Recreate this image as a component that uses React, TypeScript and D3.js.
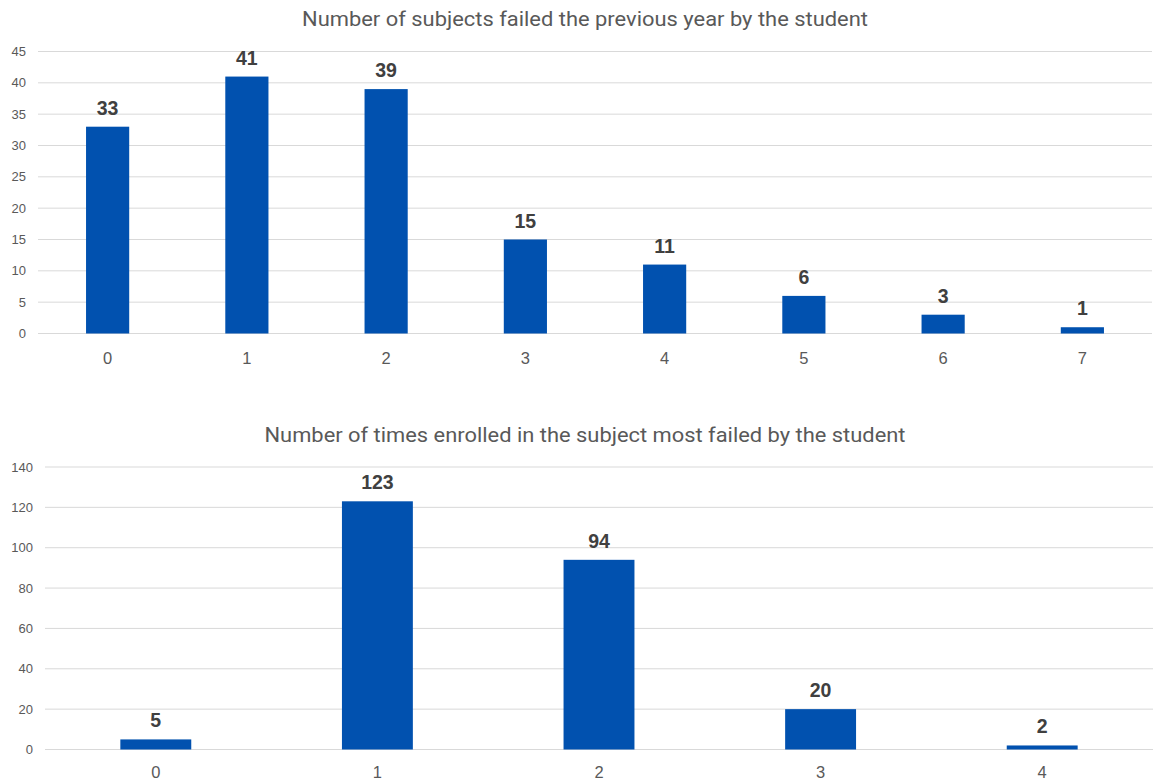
import React from "react";
import * as d3 from "d3";

const W = 1153;
const H = 781;

const failedCats = ["0", "1", "2", "3", "4", "5", "6", "7"];
const failedCounts = [33, 41, 39, 15, 11, 6, 3, 1];
const failedTicks = [0, 5, 10, 15, 20, 25, 30, 35, 40, 45];
const failedTitle = "Number of subjects failed the previous year by the student";

const enrolledCats = ["0", "1", "2", "3", "4"];
const enrolledCounts = [5, 123, 94, 20, 2];
const enrolledTicks = [0, 20, 40, 60, 80, 100, 120, 140];
const enrolledTitle = "Number of times enrolled in the subject most failed by the student";

const BAR = "#0151AF";
const GRID = "#D9D9D9";
const AXIS_TEXT = "#595959";
const LABEL_TEXT = "#404040";

type PanelProps = {
  cats: string[];
  values: number[];
  ticks: number[];
  title: string;
  titleY: number;
  titleWidth: number;
  x0: number;
  x1: number;
  yTop: number;
  yBottom: number;
  yLabelX: number;
  xLabelY: number;
  padding: number;
};

function Panel(p: PanelProps) {
  const maxTick = p.ticks[p.ticks.length - 1];
  const x = d3.scaleBand<string>().domain(p.cats).range([p.x0, p.x1]).paddingInner(p.padding).paddingOuter(p.padding / 2);
  const y = d3.scaleLinear().domain([0, maxTick]).range([p.yBottom, p.yTop]);
  return (
    <g>
      <text x={585} y={p.titleY} textAnchor="middle" fontSize={21} fill={AXIS_TEXT}
        textLength={p.titleWidth} lengthAdjust="spacingAndGlyphs"
        fontFamily="Roboto, sans-serif">{p.title}</text>
      {p.ticks.map((t) => (
        <g key={t}>
          <line x1={p.x0} x2={p.x1} y1={y(t)} y2={y(t)} stroke={GRID} strokeWidth={1} />
          <text x={p.yLabelX} y={y(t)} dy="0.35em" textAnchor="end" fontSize={13} fill={AXIS_TEXT}
            fontFamily="'Liberation Sans', Arial, sans-serif">{t}</text>
        </g>
      ))}
      {p.cats.map((c, i) => (
        <g key={c}>
          <rect x={x(c)} y={y(p.values[i])} width={x.bandwidth()} height={y(0) - y(p.values[i])} fill={BAR} />
          <text x={(x(c) as number) + x.bandwidth() / 2} y={y(p.values[i]) - 12} textAnchor="middle"
            fontSize={19.5} fontWeight="bold" fill={LABEL_TEXT}
            fontFamily="'Liberation Sans', Arial, sans-serif">{p.values[i]}</text>
          <text x={(x(c) as number) + x.bandwidth() / 2} y={p.xLabelY} dy="0.35em" textAnchor="middle"
            fontSize={16.5} fill={AXIS_TEXT}
            fontFamily="'Liberation Sans', Arial, sans-serif">{c}</text>
        </g>
      ))}
    </g>
  );
}

export default function App() {
  return (
    <svg width={W} height={H} style={{ position: "absolute", left: 0, top: 0, background: "#fff" }}>
      <rect width={W} height={H} fill="#fff" />
      <Panel cats={failedCats} values={failedCounts} ticks={failedTicks} title={failedTitle}
        titleY={26} titleWidth={566} x0={38} x1={1152} yTop={51.5} yBottom={333.5} yLabelX={26} xLabelY={358} padding={0.69} />
      <Panel cats={enrolledCats} values={enrolledCounts} ticks={enrolledTicks} title={enrolledTitle}
        titleY={442} titleWidth={641} x0={45} x1={1153} yTop={467} yBottom={749.5} yLabelX={33} xLabelY={772} padding={0.68} />
    </svg>
  );
}
